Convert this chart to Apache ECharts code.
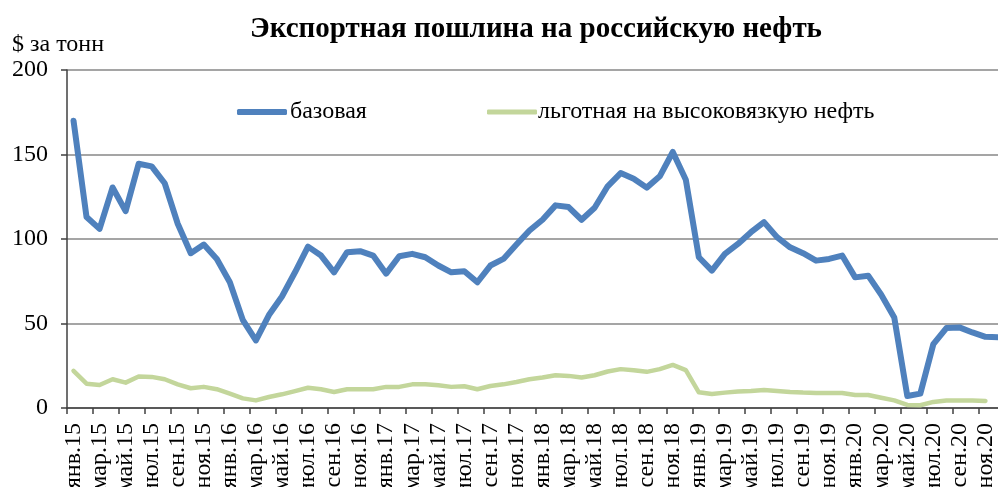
<!DOCTYPE html>
<html lang="ru">
<head>
    <meta charset="UTF-8">
    <title>Экспортная пошлина на российскую нефть</title>
    <script src="https://cdn.jsdelivr.net/npm/echarts@6/dist/echarts.min.js"></script>
    <style>
        html, body { margin: 0; padding: 0; background: #fff; }
        #main { width: 998px; height: 487px; }
    </style>
</head>
<body>
<div id="main"></div>
<script>
    // месяцы янв.15 - дек.20
    var monthNames = ['янв.', 'фев.', 'мар.', 'апр.', 'май.', 'июн.', 'июл.', 'авг.', 'сен.', 'окт.', 'ноя.', 'дек.'];
    var years = ['15', '16', '17', '18', '19', '20'];
    var months = [];
    years.forEach(function (y) {
        monthNames.forEach(function (m) { months.push(m + y); });
    });

    // базовая пошлина, $ за тонну
    var baseDuty = [
        170, 113, 106, 130.5, 116.5, 144.5, 143, 133, 109, 91.6, 96.7, 88.2,
        74.4, 52, 40, 55, 66, 80.3, 95.5, 90.2, 80.3, 92.2, 92.8, 90.2,
        79.5, 89.8, 91.2, 89.2, 84.3, 80.3, 80.9, 74.4, 84.3, 88.2, 96.7, 105,
        111.4, 119.9, 118.9, 111.4, 118.5, 131.2, 139, 135.7, 130.4, 137.1, 151.5, 135.1,
        89.2, 81.3, 91.2, 97.1, 104, 110, 101.1, 95.1, 91.6, 87.2, 88.2, 90.2,
        77.3, 78.3, 67, 53.6, 7.1, 8.5, 37.8, 47.3, 47.7, 44.7, 42.1, 41.8
    ];
    // льготная на высоковязкую нефть
    var viscousDuty = [
        22, 14.4, 13.6, 17, 15, 18.6, 18.4, 17, 14, 11.7, 12.5, 11.1,
        8.5, 5.7, 4.5, 6.5, 8.1, 10, 12, 11.1, 9.5, 11.1, 11.1, 11.1,
        12.5, 12.5, 14, 14, 13.5, 12.5, 12.9, 11.1, 13, 14, 15.4, 17,
        18, 19.4, 19, 18, 19.4, 21.6, 23, 22.4, 21.4, 23, 25.5, 22.4,
        9.3, 8.3, 9.1, 9.7, 10.1, 10.7, 10.1, 9.5, 9.1, 8.9, 8.9, 8.9,
        7.7, 7.7, 6.1, 4.5, 1.8, 1.6, 3.6, 4.5, 4.5, 4.5, 4.2, null
    ];
    var yTicks = [0, 50, 100, 150, 200];

    var serif = '"Liberation Serif", "DejaVu Serif", serif';
    var gridColor = '#878787';

    var myChart = echarts.init(document.getElementById('main'));
    var option = {
        animation: false,
        title: {
            text: 'Экспортная пошлина на российскую нефть',
            left: 531,
            textAlign: 'center',
            top: 10,
            textStyle: {fontFamily: serif, fontSize: 29, fontWeight: 'bold', color: '#000'}
        },
        graphic: [{
            type: 'text',
            left: 12,
            top: 33,
            style: {text: '$ за тонн', font: '24px ' + serif, fill: '#000'}
        }],
        legend: [{
            data: ['базовая'],
            left: 237,
            top: 100,
            padding: 0,
            icon: 'roundRect',
            itemWidth: 50,
            itemHeight: 6,
            textStyle: {fontFamily: serif, fontSize: 24, color: '#000', padding: [0, 0, 0, -2]}
        }, {
            data: ['льготная на высоковязкую нефть'],
            left: 487,
            top: 100,
            padding: 0,
            icon: 'roundRect',
            itemWidth: 50,
            itemHeight: 5,
            textStyle: {fontFamily: serif, fontSize: 24, color: '#000', padding: [0, 0, 0, -4]}
        }],
        grid: {
            left: 67,
            top: 70,
            right: -7,
            bottom: 79,
            containLabel: false,
            outerBoundsMode: 'none'
        },
        xAxis: {
            type: 'category',
            boundaryGap: true,
            data: months,
            axisLine: {lineStyle: {color: '#404040', width: 1.5}},
            axisTick: {show: true, interval: 1, length: 6, lineStyle: {color: '#404040', width: 1.5}},
            axisLabel: {
                interval: 1,
                rotate: 90,
                margin: 15,
                fontFamily: serif,
                fontSize: 24,
                color: '#000'
            }
        },
        yAxis: {
            type: 'value',
            min: yTicks[0],
            max: yTicks[yTicks.length - 1],
            interval: 50,
            axisLine: {show: true, lineStyle: {color: '#404040', width: 1.5}},
            axisTick: {show: true, length: 6, lineStyle: {color: '#404040', width: 1.5}},
            axisLabel: {margin: 19, fontFamily: serif, fontSize: 24, color: '#000'},
            splitLine: {lineStyle: {color: gridColor, width: 1.5}}
        },
        series: [{
            name: 'базовая',
            type: 'line',
            data: baseDuty,
            symbol: 'none',
            color: '#4F81BD',
            lineStyle: {width: 6, color: '#4F81BD', cap: 'round', join: 'round'}
        }, {
            name: 'льготная на высоковязкую нефть',
            type: 'line',
            data: viscousDuty,
            symbol: 'none',
            color: '#C3D69B',
            lineStyle: {width: 4.5, color: '#C3D69B', cap: 'round', join: 'round'}
        }]
    };
    myChart.setOption(option);
</script>
</body>
</html>
